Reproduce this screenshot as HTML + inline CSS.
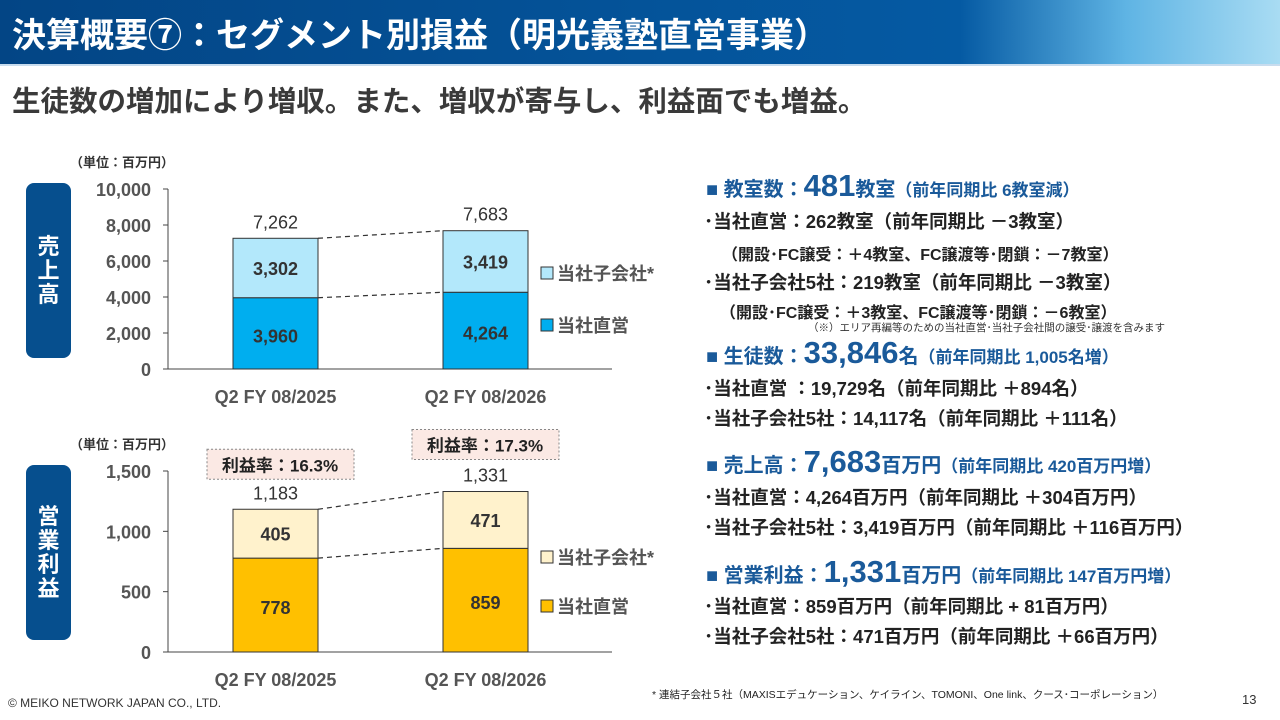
<!DOCTYPE html>
<html><head><meta charset="utf-8">
<style>
*{margin:0;padding:0;box-sizing:border-box}
body{width:1280px;height:720px;overflow:hidden;background:#fff;font-family:"Liberation Sans","Noto Sans CJK JP",sans-serif;position:relative;color:#222}
.abs{position:absolute;white-space:nowrap}
#hdr{left:0;top:0;width:1280px;height:66px;background:linear-gradient(90deg,#034585 0%,#055aa3 75%,#5fb4e4 88%,#a9dcf3 100%);border-bottom:2px solid #c8dcee}
#title{left:12px;top:8px;font-size:34px;font-weight:bold;color:#fff}
#sub{left:12px;top:79px;font-size:28.5px;font-weight:bold;color:#3a3a3a}
.side{position:absolute;left:26px;width:45px;background:#064f8e;border-radius:8px;color:#fff;font-weight:bold;font-size:22px;line-height:24px;text-align:center;display:flex;flex-direction:column;justify-content:center;align-items:center}
.r{font-weight:bold;font-size:18.5px;color:#222}
.h{font-weight:bold;color:#1a5a9a;font-size:20px}
.h .big{font-size:31px}
.h .sm{font-size:17px}
</style></head><body>
<div id="hdr" class="abs"></div>
<div id="title" class="abs">決算概要⑦：セグメント別損益（明光義塾直営事業）</div>
<div id="sub" class="abs">生徒数の増加により増収。また、増収が寄与し、利益面でも増益。</div>
<div class="side" style="top:183px;height:175px"><span>売</span><span>上</span><span>高</span></div>
<div class="side" style="top:465px;height:175px"><span>営</span><span>業</span><span>利</span><span>益</span></div>

<svg id="chart" class="abs" style="left:0;top:0" width="1280" height="720"></svg>

<div class="abs h" style="left:706px;top:168px">■ 教室数：<span class="big">481</span>教室<span class="sm">（前年同期比 6教室減）</span></div>
<div class="abs r" style="left:704px;top:208px">･当社直営：262教室（前年同期比 －3教室）</div>
<div class="abs r" style="left:722px;top:241px;font-size:16px">（開設･FC譲受：＋4教室、FC譲渡等･閉鎖：－7教室）</div>
<div class="abs r" style="left:704px;top:269px">･当社子会社5社：219教室（前年同期比 －3教室）</div>
<div class="abs r" style="left:720px;top:299px;font-size:16px">（開設･FC譲受：＋3教室、FC譲渡等･閉鎖：－6教室）</div>
<div class="abs" style="left:808px;top:320px;font-size:10.5px;color:#333">（※）エリア再編等のための当社直営･当社子会社間の譲受･譲渡を含みます</div>
<div class="abs h" style="left:706px;top:335px">■ 生徒数：<span class="big">33,846</span>名<span class="sm">（前年同期比 1,005名増）</span></div>
<div class="abs r" style="left:704px;top:375px">･当社直営 ：19,729名（前年同期比 ＋894名）</div>
<div class="abs r" style="left:704px;top:405px">･当社子会社5社：14,117名（前年同期比 ＋111名）</div>
<div class="abs h" style="left:706px;top:444px">■ 売上高：<span class="big">7,683</span>百万円<span class="sm">（前年同期比 420百万円増）</span></div>
<div class="abs r" style="left:704px;top:484px">･当社直営：4,264百万円（前年同期比 ＋304百万円）</div>
<div class="abs r" style="left:704px;top:514px">･当社子会社5社：3,419百万円（前年同期比 ＋116百万円）</div>
<div class="abs h" style="left:706px;top:554px">■ 営業利益：<span class="big">1,331</span>百万円<span class="sm">（前年同期比 147百万円増）</span></div>
<div class="abs r" style="left:704px;top:593px">･当社直営：859百万円（前年同期比 + 81百万円）</div>
<div class="abs r" style="left:704px;top:623px">･当社子会社5社：471百万円（前年同期比 ＋66百万円）</div>

<div class="abs" style="left:652px;top:687px;font-size:10.5px;color:#222">* 連結子会社５社（MAXISエデュケーション、ケイライン、TOMONI、One link、クース･コーポレーション）</div>
<div class="abs" style="left:8px;top:696px;font-size:12px;color:#333">© MEIKO NETWORK JAPAN CO., LTD.</div>
<div class="abs" style="left:1242px;top:692px;font-size:13px;color:#333">13</div>

<script>
const categories = ["Q2 FY 08/2025", "Q2 FY 08/2026"];
const salesDirect = [3960, 4264];
const salesSub = [3302, 3419];
const salesTotals = [7262, 7683];
const salesTicks = [0, 2000, 4000, 6000, 8000, 10000];
const profitDirect = [778, 859];
const profitSub = [405, 471];
const profitTotals = [1183, 1331];
const profitTicks = [0, 500, 1000, 1500];
const profitRates = ["16.3%", "17.3%"];

const svg = document.getElementById('chart');
const NS = 'http://www.w3.org/2000/svg';
function mk(tag, attrs, text){
  const e = document.createElementNS(NS, tag);
  for (const k in attrs) e.setAttribute(k, attrs[k]);
  if (text !== undefined) e.textContent = text;
  svg.appendChild(e);
  return e;
}
const fmt = v => v.toLocaleString('en-US');
const barX = i => 233 + i * 210;
const barW = 85;

function drawChart(cfg){
  const y = v => cfg.y0 - (v / cfg.max) * (cfg.y0 - cfg.yTop);
  let t = mk('text', {x: 70, y: cfg.yTop - 22, 'font-size': 13, 'font-weight': 'bold', fill: '#333'}, '（単位：百万円）');
  
  
  cfg.ticks.forEach(v => {
    const tl = mk('text', {x: 151, y: y(v) + 7, 'font-size': 18, 'font-weight': 'bold', fill: '#555', 'text-anchor': 'end'}, fmt(v));
    
    
    mk('line', {x1: 163, x2: 168, y1: y(v), y2: y(v), stroke: '#444', 'stroke-width': 1});
  });
  const ax = mk('line', {x1: 168, x2: 168, y1: cfg.yTop, y2: cfg.y0, stroke: '#444', 'stroke-width': 1});
  
  
  const base = mk('line', {x1: 163, x2: 612, y1: cfg.y0, y2: cfg.y0, stroke: '#444', 'stroke-width': 1});
  
  
  categories.forEach((c, i) => {
    const x = barX(i);
    const d = cfg.direct[i], s = cfg.sub[i], tot = d + s;
    const r1 = mk('rect', {x: x, y: y(d), width: barW, height: y(0) - y(d), fill: cfg.c1, stroke: '#333', 'stroke-width': 1});
    
    
    const r2 = mk('rect', {x: x, y: y(tot), width: barW, height: y(d) - y(tot), fill: cfg.c2, stroke: '#333', 'stroke-width': 1});
    
    
    const l1 = mk('text', {x: x + barW / 2, y: (y(0) + y(d)) / 2 + 9, 'font-size': 18, 'font-weight': 'bold', fill: '#333', 'text-anchor': 'middle'}, fmt(d));
    
    
    const l2 = mk('text', {x: x + barW / 2, y: (y(d) + y(tot)) / 2 + 7, 'font-size': 18, 'font-weight': 'bold', fill: '#333', 'text-anchor': 'middle'}, fmt(s));
    
    
    const l3 = mk('text', {x: x + barW / 2, y: y(tot) - 10, 'font-size': 18, fill: '#333', 'text-anchor': 'middle'}, fmt(cfg.totals[i]));
    
    
    const cl = mk('text', {x: x + barW / 2, y: cfg.y0 + 34, 'font-size': 18, 'font-weight': 'bold', fill: '#555', 'text-anchor': 'middle'}, c);
    
    
    if (cfg.rates) {
      const bx = x - 26 + (i ? -5 : 0), by = y(tot) - 60 + (i ? -2 : 0);
      const rb = mk('rect', {x: bx, y: by, width: 147, height: 30, fill: '#fbe9e4', stroke: '#888', 'stroke-width': 1, 'stroke-dasharray': '2,2'});
      
      
      const rt = mk('text', {x: bx + 73, y: by + 22, 'font-size': 17, 'font-weight': 'bold', fill: '#222', 'text-anchor': 'middle'}, '利益率：' + cfg.rates[i]);
      
      
    }
  });
  const x1 = barX(0) + barW, x2 = barX(1);
  [[cfg.direct[0], cfg.direct[1]], [cfg.direct[0] + cfg.sub[0], cfg.direct[1] + cfg.sub[1]]].forEach(p => {
    const ln = mk('line', {x1: x1, x2: x2, y1: y(p[0]), y2: y(p[1]), stroke: '#333', 'stroke-width': 1.2, 'stroke-dasharray': '5,4'});
    
    
  });
  [[cfg.c2, '当社子会社*', cfg.legY[0]], [cfg.c1, '当社直営', cfg.legY[1]]].forEach(L => {
    const sq = mk('rect', {x: 541, y: L[2] - 6, width: 12, height: 12, fill: L[0], stroke: '#333', 'stroke-width': 1});
    
    
    const lt = mk('text', {x: 557, y: L[2] + 7, 'font-size': 18, 'font-weight': 'bold', fill: '#555'}, L[1]);
    
    
  });
}
drawChart({key: 'sales', y0: 369, yTop: 189, max: 10000, ticks: salesTicks, direct: salesDirect, sub: salesSub, totals: salesTotals, c1: '#00aeef', c2: '#b3e8fb', legY: [273, 325]});
drawChart({key: 'profit', y0: 652, yTop: 471, max: 1500, ticks: profitTicks, direct: profitDirect, sub: profitSub, totals: profitTotals, c1: '#ffc000', c2: '#fff2cc', legY: [557, 606], rates: profitRates});
</script>
</body></html>
